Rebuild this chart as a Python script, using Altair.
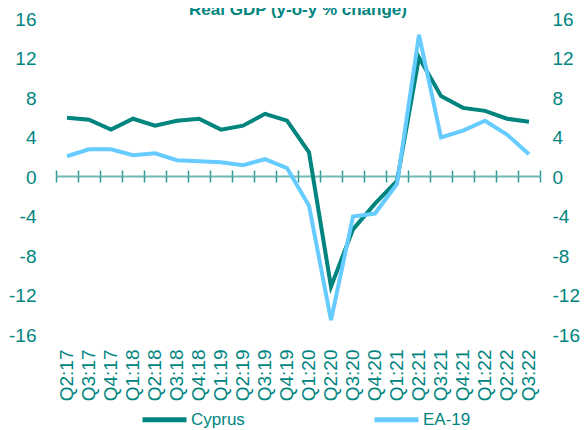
import altair as alt
import pandas as pd

quarters = ["Q2:17", "Q3:17", "Q4:17", "Q1:18", "Q2:18", "Q3:18", "Q4:18",
            "Q1:19", "Q2:19", "Q3:19", "Q4:19", "Q1:20", "Q2:20", "Q3:20",
            "Q4:20", "Q1:21", "Q2:21", "Q3:21", "Q4:21", "Q1:22", "Q2:22", "Q3:22"]
cyprus = [6.0, 5.8, 4.8, 5.9, 5.2, 5.7, 5.9, 4.8, 5.2, 6.4, 5.7, 2.5,
          -11.1, -5.3, -2.7, -0.4, 12.1, 8.2, 7.0, 6.7, 5.9, 5.6]
ea19 = [2.1, 2.8, 2.8, 2.2, 2.4, 1.7, 1.6, 1.5, 1.2, 1.8, 0.9, -2.9,
        -14.5, -4.0, -3.7, -0.7, 14.4, 4.0, 4.7, 5.7, 4.3, 2.3]
series = ["Cyprus", "EA-19"]
colors = ["#00847E", "#66CCFF"]
y_ticks = [-16, -12, -8, -4, 0, 4, 8, 12, 16]

rows = []
for name, vals in zip(series, [cyprus, ea19]):
    for q, v in zip(quarters, vals):
        rows.append({"quarter": q, "value": v, "series": name})
df = pd.DataFrame(rows)

TEAL = "#00857F"
FONT = "Liberation Sans"
HYPHEN = "datum.value < 0 ? '-' + abs(datum.value) : '' + datum.value"

xscale = alt.Scale(type="band", domain=quarters, paddingInner=0, paddingOuter=0)
yscale = alt.Scale(domain=[-16, 16], nice=False, zero=False)

base = alt.Chart(df)

lines = base.mark_line(strokeWidth=4).encode(
    x=alt.X("quarter:O", scale=xscale, sort=quarters,
            axis=alt.Axis(orient="bottom", title=None, domain=False, ticks=False,
                          labelAngle=-90, labelAlign="right", labelBaseline="middle",
                          labelPadding=14, labelFontSize=19, labelColor=TEAL,
                          labelFont=FONT)),
    y=alt.Y("value:Q", scale=yscale,
            axis=alt.Axis(orient="left", title=None, values=y_ticks, grid=False,
                          domain=False, ticks=False, labelPadding=20,
                          labelFontSize=19, labelColor=TEAL, labelFont=FONT,
                          labelExpr=HYPHEN)),
    color=alt.Color("series:N", scale=alt.Scale(domain=series, range=colors),
                    legend=alt.Legend(title=None, orient="none", legendX=84, legendY=376,
                                      direction="horizontal", columns=2,
                                      columnPadding=119, symbolType="stroke",
                                      symbolSize=1936, symbolStrokeWidth=5,
                                      labelFontSize=17, labelColor=TEAL,
                                      labelFont=FONT, labelOffset=2, padding=0)),
)

zero_top = base.mark_line(opacity=0).encode(
    x=alt.X("quarter:O", scale=xscale, sort=quarters,
            axis=alt.Axis(orient="top", offset=-157, title=None, labels=False,
                          tickBand="extent", tickSize=6, tickColor="#2E9A95",
                          tickWidth=1.5, domainColor="#6DB9B5", domainWidth=2)),
    y=alt.Y("value:Q", scale=yscale,
            axis=alt.Axis(orient="right", title=None, values=y_ticks, grid=False,
                          domain=False, ticks=False, labelPadding=12,
                          labelFontSize=19, labelColor=TEAL, labelFont=FONT,
                          labelExpr=HYPHEN)),
    detail="series:N",
)

zero_bottom = base.mark_line(opacity=0).encode(
    x=alt.X("quarter:O", scale=xscale, sort=quarters,
            axis=alt.Axis(orient="bottom", offset=-159, title=None, labels=False,
                          domain=False, tickBand="extent", tickSize=6,
                          tickColor="#2E9A95", tickWidth=1.5)),
    y=alt.Y("value:Q", scale=yscale, axis=None),
    detail="series:N",
)

chart = alt.layer(lines, zero_top, zero_bottom).resolve_axis(
    x="independent", y="independent"
).properties(
    width=484, height=316,
    autosize=alt.AutoSizeParams(type="none"),
    padding={"left": 48, "top": 11, "right": 40, "bottom": 95},
    title=alt.TitleParams("Real GDP (y-o-y % change)", fontSize=17, fontWeight="bold",
                          color=TEAL, font=FONT, anchor="middle", frame="group",
                          baseline="alphabetic", offset=-22),
).configure_view(stroke=None)

chart.save("out.html", embed_options={"renderer": "svg", "actions": False})
